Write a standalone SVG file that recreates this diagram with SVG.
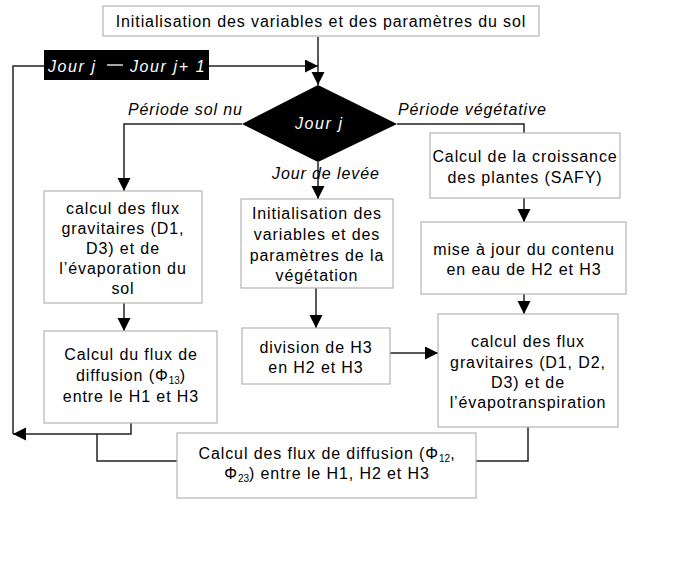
<svg xmlns="http://www.w3.org/2000/svg" width="696" height="563" viewBox="0 0 696 563">
  <defs>
    <marker id="arrow" markerUnits="userSpaceOnUse" markerWidth="14" markerHeight="14" refX="13" refY="6.5" orient="auto">
      <path d="M0,0 L13,6.5 L0,13 Z" fill="#000"/>
    </marker>
    <style>
      .box { fill: #fff; stroke: #b4b4b4; stroke-width: 1.2; }
      .txt { font-family: "Liberation Sans", Arial, sans-serif; font-size: 16px; letter-spacing: 0.9px; fill: #000; text-anchor: middle; }
      .lbl { font-family: "Liberation Sans", Arial, sans-serif; font-size: 16px; letter-spacing: 0.9px; font-style: italic; fill: #000; }
      .inv { font-family: "Liberation Sans", Arial, sans-serif; font-size: 16px; letter-spacing: 1.6px; font-style: italic; fill: #fff; }
      .sub { font-size: 10px; letter-spacing: 0; }
      .con { fill: none; stroke: #222; stroke-width: 1.5; }
      .arr { marker-end: url(#arrow); }
    </style>
  </defs>

  <rect width="696" height="563" fill="#fff"/>

  <!-- connectors -->
  <g id="connectors">
    <path class="con arr" d="M318,37 V85"/>
    <path class="con arr" d="M209,66 H318"/>
    <path class="con" d="M44,66 H13 V434"/>
    <path class="con arr" d="M131,423 V434 H13"/>
    <path class="con" d="M177,461 H97 V434"/>
    <path class="con" d="M528,427 V461 H476"/>
    <path class="con arr" d="M242,124 H124 V191"/>
    <path class="con arr" d="M124,303 V331"/>
    <path class="con arr" d="M318,162 V199"/>
    <path class="con arr" d="M316,288 V328"/>
    <path class="con arr" d="M390,353 H438"/>
    <path class="con" d="M397,124 H524 V133"/>
    <path class="con arr" d="M524,198 V222"/>
    <path class="con arr" d="M524,294 V314"/>
  </g>

  <!-- branch labels -->
  <g id="labels">
    <text class="lbl" x="128" y="115">Période sol nu</text>
    <text class="lbl" x="398" y="115">Période végétative</text>
    <text class="lbl" x="272" y="179">Jour de levée</text>
  </g>

  <g id="init">
    <rect class="box" x="103" y="6" width="436" height="30"/>
    <text class="txt" x="321" y="27">Initialisation des variables et des paramètres du sol</text>
  </g>

  <g id="increment">
    <rect x="44" y="50" width="165" height="30" fill="#000"/>
    <text class="inv" x="48" y="72">Jour j</text>
    <line x1="107" y1="65" x2="123" y2="65" stroke="#fff" stroke-width="1.3"/>
    <text class="inv" x="130" y="72">Jour j+ 1</text>
  </g>

  <g id="decision">
    <polygon points="318,85 397,124 318,162 242,124" fill="#000"/>
    <text class="inv" x="295" y="129">Jour j</text>
  </g>

  <g id="bare-gravity">
    <rect class="box" x="44" y="191" width="158" height="112"/>
    <text class="txt" x="123" y="214">calcul des flux</text>
    <text class="txt" x="123" y="234">gravitaires (D1,</text>
    <text class="txt" x="123" y="254">D3) et de</text>
    <text class="txt" x="123" y="274">l’évaporation du</text>
    <text class="txt" x="123" y="294">sol</text>
  </g>

  <g id="bare-diffusion">
    <rect class="box" x="44" y="331" width="173" height="92"/>
    <text class="txt" x="131" y="360">Calcul du flux de</text>
    <text class="txt" x="131" y="381">diffusion (Φ<tspan class="sub" dy="3">13</tspan><tspan dy="-3">)</tspan></text>
    <text class="txt" x="131" y="402">entre le H1 et H3</text>
  </g>

  <g id="veg-init">
    <rect class="box" x="241" y="199" width="152" height="89"/>
    <text class="txt" x="317" y="219">Initialisation des</text>
    <text class="txt" x="317" y="240">variables et des</text>
    <text class="txt" x="317" y="261">paramètres de la</text>
    <text class="txt" x="317" y="281">végétation</text>
  </g>

  <g id="split">
    <rect class="box" x="242" y="328" width="148" height="56"/>
    <text class="txt" x="316" y="353">division de H3</text>
    <text class="txt" x="316" y="373">en H2 et H3</text>
  </g>

  <g id="growth">
    <rect class="box" x="430" y="133" width="190" height="65"/>
    <text class="txt" x="525" y="162">Calcul de la croissance</text>
    <text class="txt" x="525" y="183">des plantes (SAFY)</text>
  </g>

  <g id="update">
    <rect class="box" x="421" y="222" width="205" height="72"/>
    <text class="txt" x="524" y="255">mise à jour du contenu</text>
    <text class="txt" x="524" y="275">en eau de H2 et H3</text>
  </g>

  <g id="veg-gravity">
    <rect class="box" x="438" y="314" width="180" height="113"/>
    <text class="txt" x="528" y="347">calcul des flux</text>
    <text class="txt" x="528" y="368">gravitaires (D1, D2,</text>
    <text class="txt" x="528" y="388">D3) et de</text>
    <text class="txt" x="528" y="408">l’évapotranspiration</text>
  </g>

  <g id="diffusion">
    <rect class="box" x="177" y="433" width="299" height="65"/>
    <text class="txt" x="327" y="459">Calcul des flux de diffusion (Φ<tspan class="sub" dy="3">12</tspan><tspan dy="-3">,</tspan></text>
    <text class="txt" x="327" y="479">Φ<tspan class="sub" dy="3">23</tspan><tspan dy="-3">) entre le H1, H2 et H3</tspan></text>
  </g>
</svg>
